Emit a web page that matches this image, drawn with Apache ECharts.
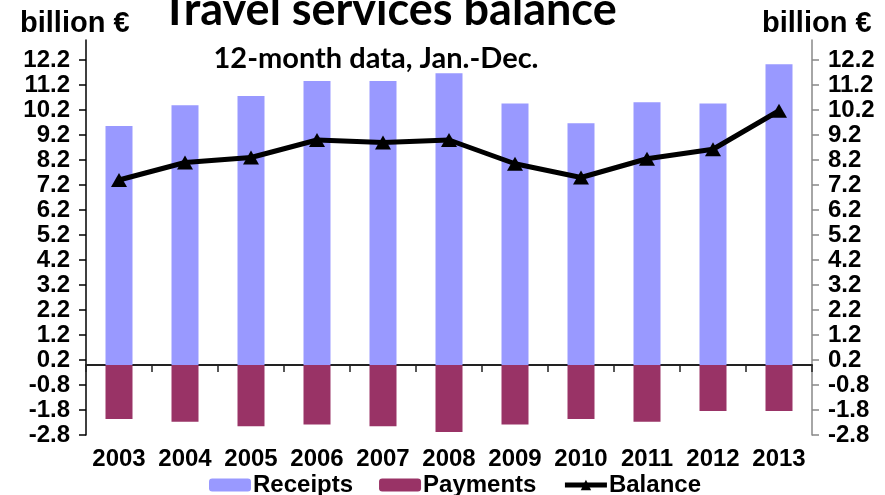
<!DOCTYPE html>
<html>
<head>
<meta charset="utf-8">
<script src="https://cdn.jsdelivr.net/npm/echarts@6/dist/echarts.min.js"></script>
<style>
  html, body { margin: 0; padding: 0; background: #fff; }
  #chart { width: 885px; height: 495px; }
</style>
</head>
<body>
<div id="chart"></div>
<script>
  var years = ['2003', '2004', '2005', '2006', '2007', '2008', '2009', '2010', '2011', '2012', '2013']
  var receipts = [9.56, 10.39, 10.76, 11.36, 11.36, 11.67, 10.46, 9.67, 10.51, 10.46, 12.03]
  var payments = [-2.16, -2.27, -2.45, -2.38, -2.45, -2.68, -2.38, -2.16, -2.27, -1.84, -1.84]
  var balance = [7.4, 8.1, 8.3, 9.0, 8.9, 9.0, 8.05, 7.5, 8.25, 8.63, 10.17]
  var yTicks = [-2.8, -1.8, -0.8, 0.2, 1.2, 2.2, 3.2, 4.2, 5.2, 6.2, 7.2, 8.2, 9.2, 10.2, 11.2, 12.2]

  var labelFont = 'Liberation Sans, Arial, sans-serif'
  var chart = echarts.init(document.getElementById('chart'))

  function valueAxis (pos, lineColor) {
    return {
      type: 'value',
      position: pos,
      min: -2.8,
      max: 13,
      interval: 1,
      splitLine: { show: false },
      axisLine: { show: true, lineStyle: { color: lineColor, width: 1.5 } },
      axisTick: { show: true, length: 7, customValues: yTicks, lineStyle: { color: lineColor, width: 1.5 } },
      axisLabel: {
        customValues: yTicks,
        margin: 16,
        color: '#000',
        fontFamily: labelFont,
        fontWeight: 'bold',
        fontSize: 24,
        formatter: function (v) { return v.toFixed(1) },
      },
    }
  }

  var option = {
    animation: false,
    title: [
      {
        text: 'Travel services balance',
        left: 384, top: -17, textAlign: 'center',
        textStyle: { fontFamily: 'Lato', fontWeight: 'bold', fontSize: 45, color: '#000' },
      },
      {
        text: '12-month data, Jan.-Dec.',
        left: 371, top: 39, textAlign: 'center',
        textStyle: { fontFamily: 'Lato', fontWeight: 'bold', fontSize: 29, color: '#000' },
      },
      {
        text: 'billion €',
        left: 15, top: 4,
        textStyle: { fontFamily: labelFont, fontWeight: 'bold', fontSize: 29, color: '#000' },
      },
      {
        text: 'billion €',
        left: 757, top: 4,
        textStyle: { fontFamily: labelFont, fontWeight: 'bold', fontSize: 29, color: '#000' },
      },
    ],
    grid: { left: 86, right: 73, top: 40, bottom: 60 },
    color: ['#9999ff', '#993366', '#000000'],
    legend: {
      left: 204, top: 468,
      itemWidth: 42, itemHeight: 13, itemGap: 26,
      data: [
        'Receipts',
        'Payments',
        { name: 'Balance', lineStyle: { width: 5 }, itemStyle: { color: '#000' } },
      ],
      textStyle: { fontFamily: labelFont, fontWeight: 'bold', fontSize: 24, color: '#000', padding: [0, 0, 0, -3] },
    },
    xAxis: [
      {
        type: 'category',
        data: years,
        axisLine: { onZero: true, lineStyle: { color: '#222', width: 2 } },
        axisTick: { show: true, length: 7, lineStyle: { color: '#222', width: 1.5 } },
        axisLabel: { show: false },
      },
      {
        type: 'category',
        data: years,
        position: 'bottom',
        axisLine: { show: false, onZero: false },
        axisTick: { show: false },
        axisLabel: { interval: 0, hideOverlap: false, margin: 12, color: '#000', fontFamily: labelFont, fontWeight: 'bold', fontSize: 24 },
      },
    ],
    yAxis: [valueAxis('left', '#000'), valueAxis('right', '#888')],
    series: [
      {
        name: 'Receipts',
        type: 'bar',
        barWidth: 27,
        barGap: '-100%',
        data: receipts,
      },
      {
        name: 'Payments',
        type: 'bar',
        barWidth: 27,
        barGap: '-100%',
        data: payments,
      },
      {
        name: 'Balance',
        type: 'line',
        data: balance,
        symbol: 'triangle',
        symbolSize: [16, 14],
        lineStyle: { width: 5, color: '#000' },
        itemStyle: { color: '#000' },
        z: 5,
      },
    ],
  }
  chart.setOption(option)
</script>
</body>
</html>
